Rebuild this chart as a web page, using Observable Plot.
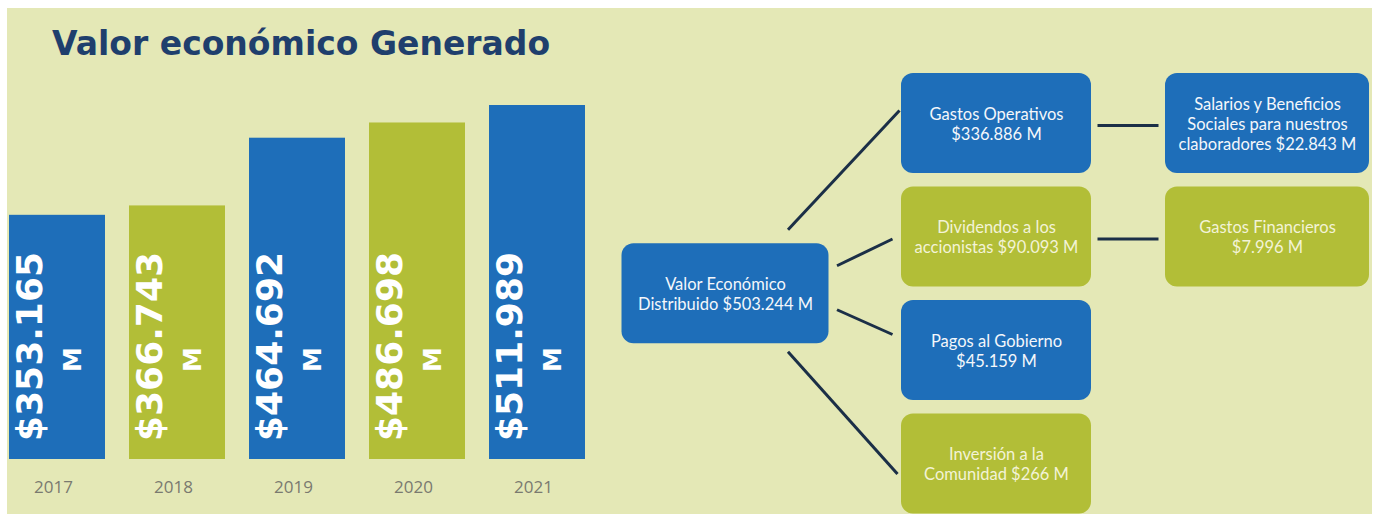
<!DOCTYPE html>
<html><head><meta charset="utf-8">
<script src="https://cdn.jsdelivr.net/npm/d3@7"></script>
<script src="https://cdn.jsdelivr.net/npm/@observablehq/plot@0.6"></script>
<style>
html,body{margin:0;padding:0;background:#fff;}
#wrap{position:relative;width:1376px;height:514px;overflow:hidden;background:#fff;}
#bg{position:absolute;left:7px;top:8px;width:1365px;height:506px;background:#e4e8b6;}
#title{position:absolute;left:52px;top:27px;font-family:"DejaVu Sans",sans-serif;font-weight:bold;font-size:33px;line-height:33px;color:#1f3f6d;white-space:nowrap;}
.layer{position:absolute;left:0;top:0;}
.layer svg{background:transparent;overflow:visible;}
</style></head><body>
<div id="wrap">
  <div id="bg"></div>
  <div id="title">Valor económico Generado</div>
  <div id="bars" class="layer"></div>
  <div id="diagram" class="layer"></div>
</div>
<script>
// ---- data: bar chart ----
const years = ["2017", "2018", "2019", "2020", "2021"];
const generated = [353.165, 366.743, 464.692, 486.698, 511.989];
const valueLabels = ["$353.165", "$366.743", "$464.692", "$486.698", "$511.989"];
const unitLabel = "M";

// ---- data: distribution diagram ----
const nodeText = [
  "Valor Económico\nDistribuido $503.244 M",
  "Gastos Operativos\n$336.886 M",
  "Dividendos a los\naccionistas $90.093 M",
  "Pagos al Gobierno\n$45.159 M",
  "Inversión a la\nComunidad $266 M",
  "Salarios y Beneficios\nSociales para nuestros\nclaboradores $22.843 M",
  "Gastos Financieros\n$7.996 M"
];
const nodeParent = [null, 0, 0, 0, 0, 1, 2];
const nodeColumn = [0, 1, 1, 1, 1, 2, 2];
const nodeRow = [1.5, 0, 1, 2, 3, 0, 1];

// ---- styles ----
const BLUE = "#1e6eb9", OLIVE = "#b2be37", NAVY = "#1b2f47";
const colorFor = i => (i % 2 === 0 ? BLUE : OLIVE);

// ---- bar chart ----
const barData = years.map((year, i) => ({year, value: generated[i], label: valueLabels[i], fill: colorFor(i)}));
const textBase = {x: "year", frameAnchor: "bottom", rotate: -90, textAnchor: "middle", lineAnchor: "middle",
  fill: "white", fontWeight: 700, fontFamily: "DejaVu Sans"};
const bars = Plot.plot({
  width: 600, height: 514,
  marginLeft: 7.3, marginRight: 14.3, marginTop: 105, marginBottom: 55,
  style: {background: "transparent", fontFamily: "Lato"},
  x: {domain: years, paddingInner: 0.2, paddingOuter: 0, axis: null},
  y: {domain: [0, d3.max(generated)], axis: null},
  marks: [
    Plot.barY(barData, {x: "year", y: "value", fill: "fill"}),
    Plot.text(barData, {...textBase, text: "label", fontSize: 36, dx: -27, dy: -113}),
    Plot.text(barData, {...textBase, text: () => unitLabel, fontSize: 25, dx: 15, dy: -100}),
    Plot.axisX({tickSize: 0, tickPadding: 21, fontSize: 17, color: "#7a7a70", label: null, dx: -4, fontFamily: "Open Sans"})
  ]
});
document.getElementById("bars").append(bars);

// ---- diagram ----
const COL_PX = 271, ROW_PX = 113.5;
const halfW = [103.5 / COL_PX, 95 / COL_PX, 102 / COL_PX];
const halfH = 50 / ROW_PX;
const nodes = nodeText.map((text, i) => ({
  i, text, col: nodeColumn[i], row: nodeRow[i], parent: nodeParent[i], fill: i === 0 ? BLUE : colorFor(i + 1)
}));
// connector ports (pixel offsets) keyed by row difference target-source
const ports = {
  "-1.5": {sdx: -41, sy: "top", sdy: -14, tdx: -2, tdy: -13},
  "-0.5": {sdx: 8, sy: "mid", sdy: -28, tdx: -9, tdy: 2},
  "0.5": {sdx: 8, sy: "mid", sdy: 16, tdx: -9, tdy: -16},
  "1.5": {sdx: -41, sy: "bottom", sdy: 8, tdx: -4, tdy: 10},
  "0": {sdx: 6, sy: "mid", sdy: 2, tdx: -7, tdy: 2}
};
const edges = nodes.filter(d => d.parent !== null).map(t => {
  const s = nodes[t.parent];
  const p = ports[String(t.row - s.row)];
  const sy = p.sy === "top" ? s.row - halfH : p.sy === "bottom" ? s.row + halfH : s.row;
  return {
    x1: s.col + halfW[s.col] + p.sdx / COL_PX,
    y1: sy + p.sdy / ROW_PX,
    x2: t.col - halfW[t.col] + p.tdx / COL_PX,
    y2: t.row + p.tdy / ROW_PX
  };
});
const diagram = Plot.plot({
  width: 1376, height: 514, margin: 0,
  style: {background: "transparent", fontFamily: "Lato"},
  x: {domain: [0, 2], range: [725, 1267], axis: null},
  y: {domain: [0, 3], range: [123, 463.5], axis: null},
  marks: [
    Plot.link(edges, {x1: "x1", y1: "y1", x2: "x2", y2: "y2", stroke: NAVY, strokeWidth: 3}),
    Plot.rect(nodes, {
      x1: d => d.col - halfW[d.col], x2: d => d.col + halfW[d.col],
      y1: d => d.row - halfH, y2: d => d.row + halfH,
      fill: "fill", rx: 12
    }),
    Plot.text(nodes, {x: "col", y: "row", text: "text", fontSize: 16.5, lineHeight: 1.2,
      fill: d => (d.fill === OLIVE ? "#f3f3d6" : "#f4f7fb"), fontFamily: "Lato"})
  ]
});
document.getElementById("diagram").append(diagram);
</script>
</body></html>
